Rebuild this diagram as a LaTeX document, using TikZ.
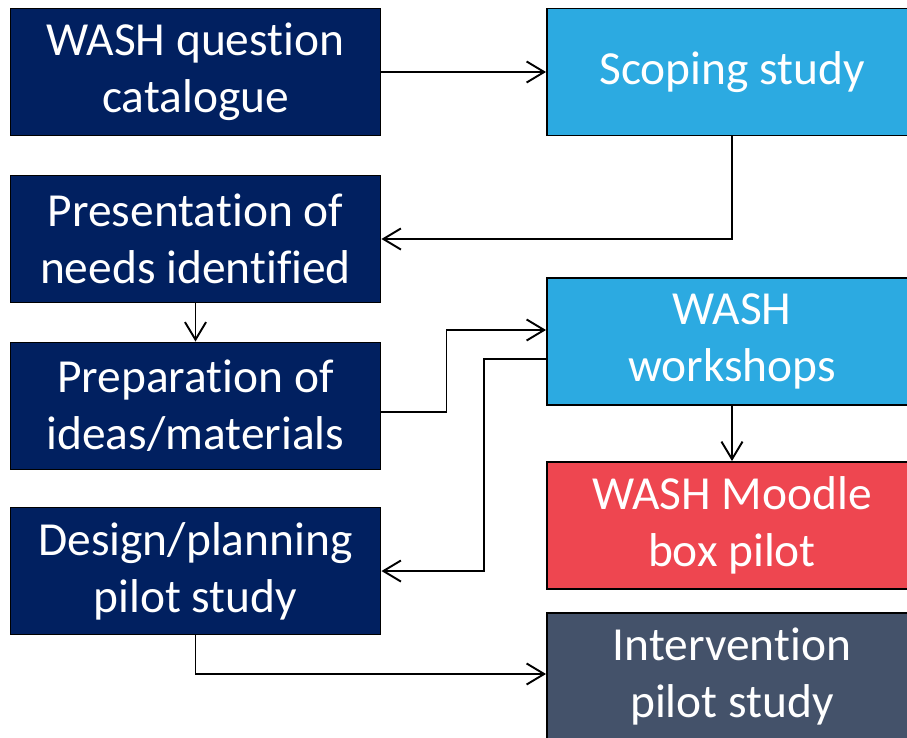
\documentclass[tikz,border=0pt]{standalone}
\usepackage{fontspec}
\setmainfont{Carlito}[Ligatures=NoCommon]
\usepackage{xcolor}
\definecolor{WashNavy}{HTML}{012060}
\definecolor{WashBlue}{HTML}{2CAAE1}
\definecolor{WashRed}{HTML}{EE4650}
\definecolor{WashSlate}{HTML}{44526A}
\usepackage{tikz}
\usetikzlibrary{arrows.meta, positioning, calc}
\tikzset{
  % Box styles
  stepbox/.style={rectangle, draw=black, line width=1.1pt, text=white, minimum width=7.4cm, minimum height=2.54cm, align=center, font=\fontsize{27}{32.6}\selectfont},
  navybox/.style={stepbox, fill=WashNavy},
  bluebox/.style={stepbox, fill=WashBlue},
  redbox/.style={stepbox, fill=WashRed},
  slatebox/.style={stepbox, fill=WashSlate},
  % Arrow styles
  arrow/.style={-{Straight Barb[length=10pt, width=12pt, line width=1.1pt]}, line width=1.1pt, black}
}

\begin{document}
\begin{tikzpicture}
  \useasboundingbox (0,0) rectangle (18.14,-14.74);

  % Left column
  \node[navybox] (catalogue) at (3.91,-1.44) {WASH question\\catalogue};
  \node[navybox] (needs) at (3.91,-4.78) {Presentation of\\needs identified};
  \node[navybox] (prep) at (3.91,-8.12) {Preparation of\\ideas/materials};
  \node[navybox] (design) at (3.91,-11.42) {Design/planning\\pilot study};

  % Right column
  \node[bluebox] (scoping) at (14.64,-1.44) {Scoping study};
  \node[bluebox] (workshops) at (14.64,-6.83) {WASH\\workshops};
  \node[redbox] (moodle) at (14.64,-10.51) {WASH Moodle\\box pilot};
  \node[slatebox] (intervention) at (14.64,-13.53) {Intervention\\pilot study};

  % Arrows
  \draw[arrow] (catalogue) -- (scoping);
  \draw[arrow] (scoping.south) |- (needs.east);
  \draw[arrow] (needs) -- (prep);
  \draw[arrow] ([yshift=-0.12cm]prep.east) -- ++(1.3,0) |- ([yshift=0.23cm]workshops.west);
  \draw[arrow] ([yshift=-0.35cm]workshops.west) -- ++(-1.24,0) |- (design.east);
  \draw[arrow] (workshops) -- (moodle);
  \draw[arrow] (design.south) |- ([yshift=0.05cm]intervention.west);
\end{tikzpicture}
\end{document}
